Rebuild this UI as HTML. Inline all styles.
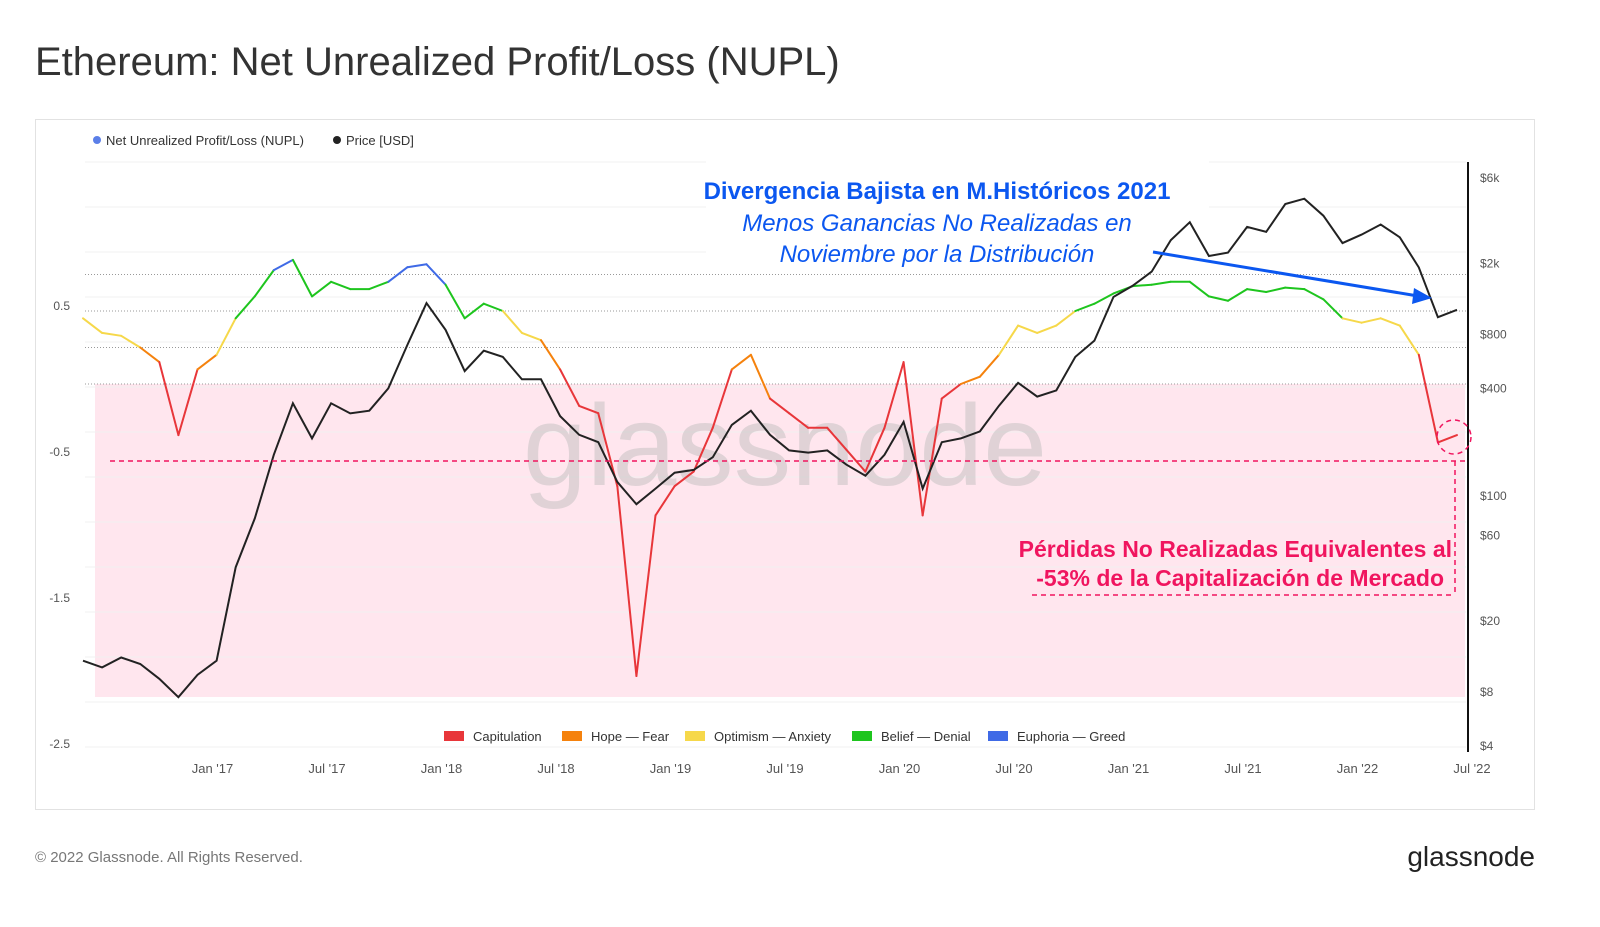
<!DOCTYPE html>
<html><head><meta charset="utf-8"><style>
body{margin:0;background:#fff;width:1600px;height:922px;overflow:hidden;font-family:"Liberation Sans",sans-serif;}
</style></head><body>
<svg width="1600" height="922" xmlns="http://www.w3.org/2000/svg" id="svg">
<text x="35" y="75" font-size="40" fill="#333">Ethereum: Net Unrealized Profit/Loss (NUPL)</text>
<rect x="35.5" y="119.5" width="1499" height="690" fill="none" stroke="#e2e2e2"/>
<g>
<circle cx="97" cy="140" r="4" fill="#5b7fe8"/><text x="106" y="145" font-size="13" fill="#333">Net Unrealized Profit/Loss (NUPL)</text>
<circle cx="337" cy="140" r="4" fill="#222"/><text x="346" y="145" font-size="13" fill="#333">Price [USD]</text>
</g>
<rect x="95" y="384" width="1370" height="313" fill="#ffe6ee"/>
<g id="grid"></g>
<rect x="706" y="160" width="503" height="110" fill="#fff"/>
<text x="785" y="485" font-size="115" fill="#bbb" opacity="0.45" text-anchor="middle">glassnode</text>
<g id="axes"></g>
<g id="series"></g>
<line x1="1468" y1="162" x2="1468" y2="752" stroke="#111" stroke-width="2"/>
<g font-size="24" fill="#0b57f0" text-anchor="middle">
<text x="937" y="199" font-weight="bold">Divergencia Bajista en M.Históricos 2021</text>
<text x="937" y="231" font-style="italic">Menos Ganancias No Realizadas en</text>
<text x="937" y="262" font-style="italic">Noviembre por la Distribución</text>
</g>
<line x1="1153" y1="252" x2="1418" y2="296" stroke="#0b57f0" stroke-width="3"/>
<polygon points="1432,298 1414,288 1412,304" fill="#0b57f0"/>
<g stroke="#f0155f" stroke-width="1.5" stroke-dasharray="5,4" fill="none">
<line x1="110" y1="461" x2="1468" y2="461"/>
<line x1="1032" y1="595" x2="1455" y2="595"/>
<line x1="1455" y1="461" x2="1455" y2="595"/>
<circle cx="1454" cy="437" r="17"/>
</g>
<g font-size="23" font-weight="bold" fill="#f0155f" text-anchor="end">
<text x="1452" y="557">Pérdidas No Realizadas Equivalentes al</text>
<text x="1444" y="586">-53% de la Capitalización de Mercado</text>
</g>
<g font-size="13" fill="#333">
<rect x="444" y="731" width="20" height="10" fill="#e8363a"/><text x="473" y="741">Capitulation</text>
<rect x="562" y="731" width="20" height="10" fill="#f5820d"/><text x="591" y="741">Hope — Fear</text>
<rect x="685" y="731" width="20" height="10" fill="#f6d84a"/><text x="714" y="741">Optimism — Anxiety</text>
<rect x="852" y="731" width="20" height="10" fill="#1ec51e"/><text x="881" y="741">Belief — Denial</text>
<rect x="988" y="731" width="20" height="10" fill="#3f6ae6"/><text x="1017" y="741">Euphoria — Greed</text>
</g>
<text x="35" y="862" font-size="15" fill="#777">© 2022 Glassnode. All Rights Reserved.</text>
<text x="1535" y="866" font-size="28" fill="#222" text-anchor="end">glassnode</text>
</svg>
<script>
const nuplTicks=[0.5,-0.5,-1.5,-2.5];
const priceTicks=[6000,2000,800,400,100,60,20,8,4];
const priceTickLabels=["$6k","$2k","$800","$400","$100","$60","$20","$8","$4"];
const xTickLabels=["Jan '17","Jul '17","Jan '18","Jul '18","Jan '19","Jul '19","Jan '20","Jul '20","Jan '21","Jul '21","Jan '22","Jul '22"];
const xTickMonths=[6,12,18,24,30,36,42,48,54,60,66,72];
const zoneLines=[0.75,0.5,0.25,0];
// monthly from Jul 2016
const price=[12,11,12.5,11.5,9.5,7.5,
10,12,40,75,170,330,210,330,290,300,400,700,
1200,850,500,650,600,450,450,280,220,200,120,90,
110,135,140,165,250,300,220,180,175,180,150,130,
170,260,110,200,210,230,320,430,360,390,600,740,
1300,1500,1800,2700,3400,2200,2300,3200,3000,4300,4600,3700,
2600,2900,3300,2800,1900,1000,1100];
const nupl=[0.45,0.35,0.33,0.25,0.15,-0.35,
0.1,0.2,0.45,0.6,0.78,0.85,0.6,0.7,0.65,0.65,0.7,0.8,
0.82,0.68,0.45,0.55,0.5,0.35,0.3,0.1,-0.15,-0.2,-0.7,-2.0,
-0.9,-0.7,-0.6,-0.3,0.1,0.2,-0.1,-0.2,-0.3,-0.3,-0.45,-0.6,
-0.3,0.15,-0.9,-0.1,0.0,0.05,0.2,0.4,0.35,0.4,0.5,0.55,
0.62,0.67,0.68,0.7,0.7,0.6,0.57,0.65,0.63,0.66,0.65,0.58,
0.45,0.42,0.45,0.4,0.2,-0.4,-0.35];
const NS="http://www.w3.org/2000/svg";
const xs=i=>83+i/12*229;
const yN=v=>384-v*146;
const yP=p=>746-(Math.log10(p)-Math.log10(4))*178.8;
function mk(tag,attrs,parent){const e=document.createElementNS(NS,tag);for(const k in attrs)e.setAttribute(k,attrs[k]);parent.appendChild(e);return e;}
const grid=document.getElementById('grid'),axes=document.getElementById('axes'),series=document.getElementById('series');
for(let k=0;k<14;k++){const l=mk('line',{x1:85,x2:1466,y1:162+k*45,y2:162+k*45,stroke:'#f0f0f0'},grid);}
zoneLines.forEach(v=>{const l=mk('line',{x1:85,x2:1466,y1:yN(v),y2:yN(v),stroke:'#999','stroke-dasharray':'1,2'},grid);});
nuplTicks.forEach(v=>{const t=mk('text',{x:70,y:yN(v)-1,'font-size':12,fill:'#555','text-anchor':'end'},axes);t.textContent=v;});
priceTicks.forEach((p,i)=>{const t=mk('text',{x:1480,y:yP(p)+4,'font-size':12,fill:'#555'},axes);t.textContent=priceTickLabels[i];});
xTickMonths.forEach((m,i)=>{const t=mk('text',{x:xs(m)+15,y:773,'font-size':13,fill:'#555','text-anchor':'middle'},axes);t.textContent=xTickLabels[i];});
const col=v=>v<0?'#e8363a':v<0.25?'#f5820d':v<0.5?'#f6d84a':v<0.75?'#1ec51e':'#3f6ae6';
for(let i=0;i<nupl.length-1;i++){const l=mk('line',{x1:xs(i),y1:yN(nupl[i]),x2:xs(i+1),y2:yN(nupl[i+1]),stroke:col((nupl[i]+nupl[i+1])/2),'stroke-width':2,'stroke-linecap':'round'},series);}
const pp=mk('path',{d:price.map((p,i)=>(i?'L':'M')+xs(i).toFixed(1)+','+yP(p).toFixed(1)).join(''),fill:'none',stroke:'#222','stroke-width':2},series);


</script>
</body></html>
